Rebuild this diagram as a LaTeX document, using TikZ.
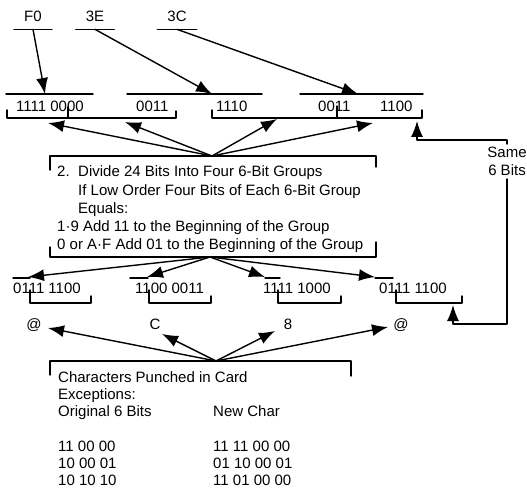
\documentclass[tikz,border=0pt]{standalone}
\usepackage{fontspec}
\setmainfont{Liberation Sans}
\usetikzlibrary{arrows.meta}

\tikzset{
  txt/.style={font=\fontsize{15}{18}\selectfont, inner sep=0pt},
  hexbyte/.style={txt, anchor=base, inner xsep=10pt, inner ysep=7pt},
  rule/.style={line width=1.4pt},
  ptr/.style={rule, -{Latex[length=16pt,width=12pt]}},
}

\begin{document}
\begin{tikzpicture}[x=1pt, y=-1pt, line cap=round, line join=round]
\useasboundingbox (0,0) rectangle (527,489);

% input bytes
\node[hexbyte] (F0) at (33,22) {F0};
\node[hexbyte] (E3) at (95,22) {3E};
\node[hexbyte] (C3) at (177,22) {3C};
\foreach \b in {F0,E3,C3}
  \draw[rule] (\b.south west) -- (\b.south east);

% 24 bits
\foreach \x/\t [count=\i] in {16/1111 0000, 136/0011, 216/1110, 318/0011, 380/1100}
  \node[txt, anchor=base west] (bit\i) at (\x,112) {\t};
\foreach \a/\b in {6/93, 127/262, 300/423}
  \draw[rule] (\a,94) -- (\b,94);
\coordinate (inF0) at (45,94);
\coordinate (inE3) at (212,94);
\coordinate (inC3) at (358,94);
\draw[ptr] (F0.south) -- (inF0);
\draw[ptr] (E3.south) -- (inE3);
\draw[ptr] (C3.south) -- (inC3);

% four 6-bit groups
\draw[rule] (7,110) -- (7,118) -- (176,118) -- (176,111);
\draw[rule] (68,118) -- (68,107);
\draw[rule] (212,110) -- (212,118) -- (422,118) -- (422,110);
\draw[rule] (337,118) -- (337,106);

% step 2
\draw[rule] (50,170) -- (50,156) -- (376,156) -- (376,167);
\draw[rule] (50,247) -- (50,257) -- (376,257) -- (376,242);
\node[txt, anchor=base west, font=\fontsize{15}{18.2}\selectfont] (divide) at (57,177) {%
  \begin{tabular}[t]{@{}p{21pt}@{}l@{}}
  2. & Divide 24 Bits Into Four 6-Bit Groups\\
     & If Low Order Four Bits of Each 6-Bit Group\\
     & Equals:\\
  \multicolumn{2}{@{}l@{}}{1·9 Add 11 to the Beginning of the Group}\\
  \multicolumn{2}{@{}l@{}}{0 or A·F Add 01 to the Beginning of the Group}
  \end{tabular}};
\coordinate (divtop) at (212,156);
\coordinate (divbot) at (210,257);
\coordinate (g1) at (48,123);
\coordinate (g2) at (125,122);
\coordinate (g3) at (277,119);
\coordinate (g4) at (373,123);
\foreach \g in {g1,g2,g3,g4}
  \draw[ptr] (divtop) -- (\g);

% new bytes
\foreach \x/\t [count=\i] in {13/0111 1100, 135/1100 0011, 263/1111 1000, 379/0111 1100}
  \node[txt, anchor=base west] (new\i) at (\x,293) {\t};
\foreach \a/\b in {13/30, 130/148, 265/280, 375/393}
  \draw[rule] (\a,278) -- (\b,278);
\coordinate (n1) at (28,277);
\coordinate (n2) at (147,277);
\coordinate (n3) at (265,277);
\coordinate (n4) at (375,277);
\foreach \n in {n1,n2,n3,n4}
  \draw[ptr] (divbot) -- (\n);
\foreach \a/\b in {30/91, 149/211, 278/341, 396/462}
  \draw[rule] (\a,290) -- (\a,303) -- (\b,303) -- (\b,296);

% same 6 bits
\node[txt, align=center, inner ysep=3pt] (same) at (507,161.5) {Same\\6 Bits};
\coordinate (r1end) at (417,121);
\coordinate (r2end) at (453,305);
\draw[ptr] (same.north) -- ++(0,-4) -| (r1end);
\draw[ptr] (same.south) -- (same.south |- 0,324) -| (r2end);

% characters
\foreach \x/\t [count=\i] in {34/@, 155/C, 288/8, 401/@}
  \node[txt, anchor=base] (ch\i) at (\x,329) {\t};
\coordinate (c1) at (48,328);
\coordinate (c2) at (162,334);
\coordinate (c3) at (275,331);
\coordinate (c4) at (388,327);
\coordinate (cardtop) at (216,361);
\foreach \c in {c1,c2,c3,c4}
  \draw[ptr] (cardtop) -- (\c);

% card
\draw[rule] (50,375) -- (50,361) -- (351,361) -- (351,376);
\node[txt, anchor=base west, font=\fontsize{15}{17.3}\selectfont] (card) at (58,382) {%
  \begin{tabular}[t]{@{}p{155pt}@{}l@{}}
  \multicolumn{2}{@{}l@{}}{Characters Punched in Card}\\
  \multicolumn{2}{@{}l@{}}{Exceptions:}\\
  Original 6 Bits & New Char\\
  & \\
  11 00 00 & 11 11 00 00\\
  10 00 01 & 01 10 00 01\\
  10 10 10 & 11 01 00 00
  \end{tabular}};

\end{tikzpicture}
\end{document}
